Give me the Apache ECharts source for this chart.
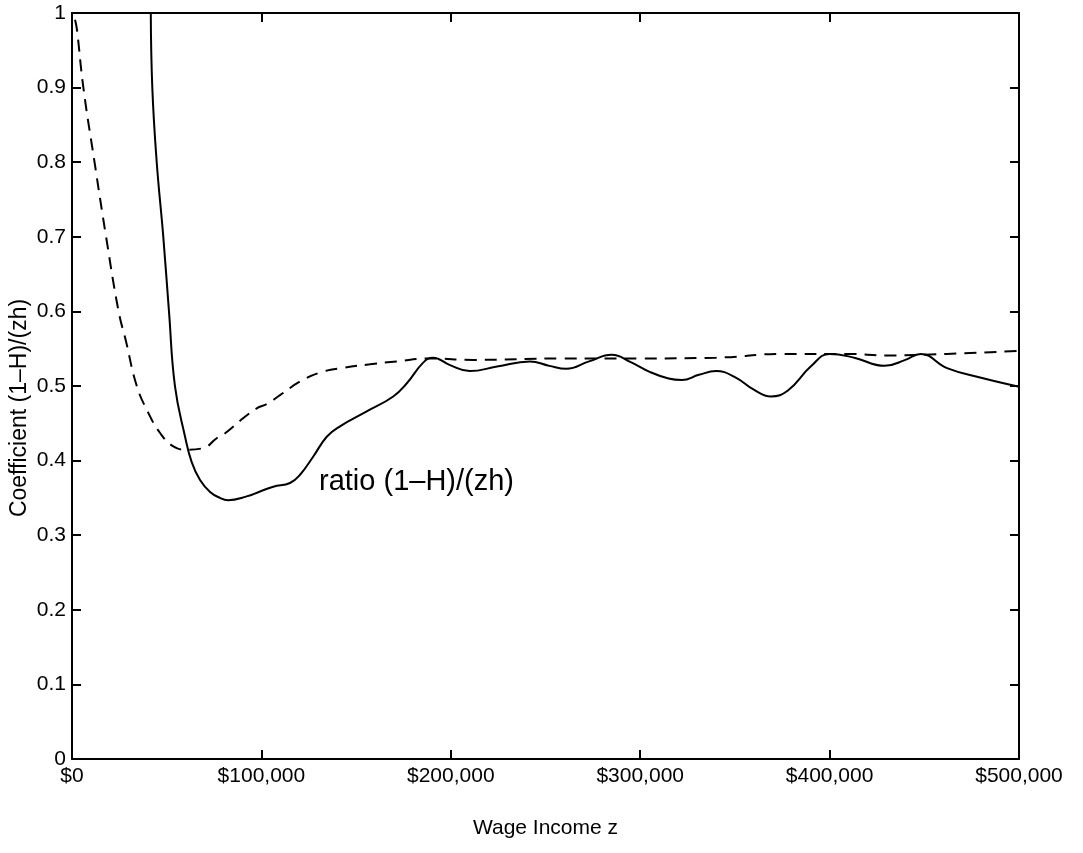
<!DOCTYPE html>
<html>
<head>
<meta charset="utf-8">
<script src="https://cdn.jsdelivr.net/npm/echarts@6/dist/echarts.min.js"></script>
<style>html,body{margin:0;padding:0;background:#fff;}#c{width:1083px;height:853px;}</style>
</head>
<body>
<div id="c"></div>
<script>
// Wage income z (thousands of $) and ratio values
var solidZ = [41.6, 42.4, 44.7, 48.2, 51.2, 54.4, 59.7, 63.2, 67.6, 72.9, 78.1, 82.4, 92.2, 99.3, 106.3, 115.1, 120.4, 127.4, 134.5, 141.5, 155.6, 169.6, 176.9, 185.3, 190.6, 199.6, 210, 224.4, 241.8, 252, 261, 273, 285, 295, 305, 315, 322, 331, 340, 350, 360, 369, 378, 390, 400, 413, 429, 440, 448, 462, 480, 500];
var solidV = [1.0, 0.9, 0.801, 0.7, 0.6, 0.499, 0.432, 0.398, 0.374, 0.358, 0.350, 0.347, 0.352, 0.3586, 0.365, 0.370, 0.381, 0.4055, 0.432, 0.446, 0.466, 0.486, 0.504, 0.531, 0.538, 0.528, 0.520, 0.526, 0.533, 0.527, 0.523, 0.533, 0.542, 0.532, 0.519, 0.510, 0.508, 0.515, 0.520, 0.512, 0.495, 0.486, 0.494, 0.526, 0.543, 0.538, 0.527, 0.535, 0.543, 0.524, 0.511, 0.499];
var dashZ = [1.6, 2.6, 6.0, 11.9, 18, 24.6, 28.5, 34.2, 40.3, 46.5, 53.5, 60.5, 69.3, 76.4, 80, 90.5, 97.5, 103, 110, 120.4, 130.9, 143.3, 157.3, 171.4, 189, 212, 259, 300, 340, 375, 410, 430, 462, 500];
var dashV = [0.991, 0.978, 0.9, 0.8, 0.7, 0.6, 0.56, 0.5, 0.464, 0.437, 0.419, 0.4145, 0.4168, 0.430, 0.435, 0.457, 0.470, 0.476, 0.488, 0.506, 0.518, 0.5245, 0.529, 0.533, 0.537, 0.535, 0.537, 0.537, 0.538, 0.543, 0.543, 0.541, 0.543, 0.547];
var xTicks = [0, 100000, 200000, 300000, 400000, 500000];
var xTickLabels = ['$0', '$100,000', '$200,000', '$300,000', '$400,000', '$500,000'];
var yLabel = 'Coefficient (1\u2013H)/(zh)';
var xLabel = 'Wage Income z';
var annotation = 'ratio (1\u2013H)/(zh)';

function pairs(zs, vs) { return zs.map(function (z, i) { return [z * 1000, vs[i]]; }); }

var FONT = '"Liberation Sans", Arial, sans-serif';
var chart = echarts.init(document.getElementById('c'));
var axisLine = { show: true, onZero: false, lineStyle: { color: '#000', width: 2 } };
var tick = { show: true, inside: true, length: 9, lineStyle: { color: '#000', width: 2 } };
chart.setOption({
  animation: false,
  backgroundColor: '#fff',
  grid: { left: 72, right: 64, top: 13, bottom: 94, containLabel: false, outerBoundsMode: 'none' },
  xAxis: [{
    type: 'value', min: 0, max: 500000, interval: 100000,
    axisLine: axisLine, axisTick: tick, splitLine: { show: false },
    axisLabel: { color: '#000', fontFamily: FONT, fontSize: 21, margin: 7,
      formatter: function (v) { return xTickLabels[xTicks.indexOf(v)]; } },
    name: xLabel, nameLocation: 'middle', nameGap: 59,
    nameTextStyle: { color: '#000', fontFamily: FONT, fontSize: 21 }
  }, {
    type: 'value', position: 'top', min: 0, max: 500000, interval: 100000,
    axisLine: axisLine, axisTick: tick, axisLabel: { show: false }, splitLine: { show: false }
  }],
  yAxis: [{
    type: 'value', min: 0, max: 1, interval: 0.1,
    axisLine: axisLine, axisTick: tick, splitLine: { show: false },
    axisLabel: { color: '#000', fontFamily: FONT, fontSize: 21, margin: 6,
      formatter: function (v) { return String(+v.toFixed(1)); } }
  }, {
    type: 'value', position: 'right', min: 0, max: 1, interval: 0.1,
    axisLine: axisLine, axisTick: tick, axisLabel: { show: false }, splitLine: { show: false }
  }],
  series: [{
    type: 'line', data: pairs(solidZ, solidV), smooth: 0.45, showSymbol: false, clip: true,
    lineStyle: { color: '#000', width: 2 }
  }, {
    type: 'line', data: pairs(dashZ, dashV), smooth: 0.45, showSymbol: false, clip: true,
    lineStyle: { color: '#000', width: 2, type: [12, 8] }
  }],
  graphic: [{
    type: 'text', x: 20, y: 408, rotation: Math.PI / 2,
    style: { text: yLabel, fill: '#000', font: '23px ' + FONT, align: 'center', verticalAlign: 'middle' }
  }, {
    type: 'text', left: 319, top: 467,
    style: { text: annotation, fill: '#000', font: '29px ' + FONT }
  }]
});
</script>
</body>
</html>
